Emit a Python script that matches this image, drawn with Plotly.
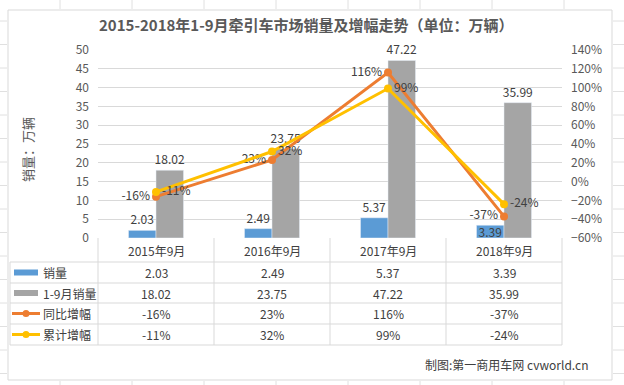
import plotly.graph_objects as go

categories = ["2015年9月", "2016年9月", "2017年9月", "2018年9月"]
sales_sep = [2.03, 2.49, 5.37, 3.39]
sales_ytd = [18.02, 23.75, 47.22, 35.99]
yoy_growth = [-16, 23, 116, -37]
ytd_growth = [-11, 32, 99, -24]
series_names = ["销量", "1-9月销量", "同比增幅", "累计增幅"]

W, H = 624, 385
PL, PR, PT, PB = 98, 562, 50, 238
FONT = "Noto Sans CJK SC"
TXT = "#404040"
BLUE, GRAY, ORANGE, YELLOW = "#5B9BD5", "#A5A5A5", "#ED7D31", "#FFC000"
GRID = "#D9D9D9"


def px(x):
    return (x - PL) / (PR - PL)


def py(y):
    return (PB - y) / (PB - PT)


fig = go.Figure()
fig.add_trace(go.Bar(x=categories, y=sales_sep, name=series_names[0], marker_color=BLUE,
                     text=[f"{v:.2f}" for v in sales_sep],
                     textposition=["outside", "outside", "outside", "inside"],
                     insidetextanchor="middle", constraintext="none", cliponaxis=False,
                     textfont=dict(size=12, color=TXT, family=FONT)))
fig.add_trace(go.Bar(x=categories, y=sales_ytd, name=series_names[1], marker_color=GRAY,
                     text=[f"{v:.2f}" for v in sales_ytd], textposition="outside",
                     constraintext="none", cliponaxis=False,
                     textfont=dict(size=12, color=TXT, family=FONT)))
fig.add_trace(go.Scatter(x=categories, y=yoy_growth, name=series_names[2], yaxis="y2",
                         mode="lines+markers+text", line=dict(color=ORANGE, width=3),
                         marker=dict(size=8, color=ORANGE),
                         text=[f"{v}%" for v in yoy_growth], textposition="middle left",
                         cliponaxis=False, textfont=dict(size=12, color=TXT, family=FONT)))
fig.add_trace(go.Scatter(x=categories, y=ytd_growth, name=series_names[3], yaxis="y2",
                         mode="lines+markers+text", line=dict(color=YELLOW, width=3),
                         marker=dict(size=8, color=YELLOW),
                         text=[f"{v}%" for v in ytd_growth], textposition="middle right",
                         cliponaxis=False, textfont=dict(size=12, color=TXT, family=FONT)))

shapes = []
# sheet gridlines outside chart
for gx in range(60, 624, 72):
    shapes.append(dict(type="line", xref="paper", yref="paper", x0=px(gx), x1=px(gx),
                       y0=py(0), y1=py(9), line=dict(color="#E0E0E0", width=1), layer="below"))
    shapes.append(dict(type="line", xref="paper", yref="paper", x0=px(gx), x1=px(gx),
                       y0=py(381), y1=py(385), line=dict(color="#E0E0E0", width=1), layer="below"))
gy = 21.0
while gy < 385:
    for a, b in ((0, 7), (613, 624)):
        shapes.append(dict(type="line", xref="paper", yref="paper", x0=px(a), x1=px(b),
                           y0=py(gy), y1=py(gy), line=dict(color="#E0E0E0", width=1), layer="below"))
    gy += 23.5
# chart border
shapes.append(dict(type="rect", xref="paper", yref="paper", x0=px(8), x1=px(612),
                   y0=py(380), y1=py(10), line=dict(color=GRID, width=1), layer="below"))
# table lines
for vx in [98, 214, 330, 446, 562]:
    shapes.append(dict(type="line", xref="paper", yref="paper", x0=px(vx), x1=px(vx),
                       y0=py(238), y1=py(345), line=dict(color=GRID, width=1)))
shapes.append(dict(type="line", xref="paper", yref="paper", x0=px(10), x1=px(10),
                   y0=py(262), y1=py(345), line=dict(color=GRID, width=1)))
for hy in [262, 283, 303, 324, 345]:
    shapes.append(dict(type="line", xref="paper", yref="paper", x0=px(10), x1=px(562),
                       y0=py(hy), y1=py(hy), line=dict(color=GRID, width=1)))
# legend keys
row_y = [272.5, 293, 313.5, 334.5]
shapes.append(dict(type="rect", xref="paper", yref="paper", x0=px(14), x1=px(38),
                   y0=py(row_y[0] + 3), y1=py(row_y[0] - 3), line=dict(width=0), fillcolor=BLUE))
shapes.append(dict(type="rect", xref="paper", yref="paper", x0=px(14), x1=px(38),
                   y0=py(row_y[1] + 3), y1=py(row_y[1] - 3), line=dict(width=0), fillcolor=GRAY))
for r, c in ((row_y[2], ORANGE), (row_y[3], YELLOW)):
    shapes.append(dict(type="line", xref="paper", yref="paper", x0=px(12), x1=px(40),
                       y0=py(r), y1=py(r), line=dict(color=c, width=3)))
    shapes.append(dict(type="circle", xref="paper", yref="paper", x0=px(22.5), x1=px(29.5),
                       y0=py(r + 3.5), y1=py(r - 3.5), line=dict(width=0), fillcolor=c))

ann = []
centers = [156, 272, 388, 504]
for i, cat in enumerate(categories):
    ann.append(dict(text=cat, x=px(centers[i]), y=py(250)))
    ann.append(dict(text=f"{sales_sep[i]:.2f}", x=px(centers[i]), y=py(row_y[0])))
    ann.append(dict(text=f"{sales_ytd[i]:.2f}", x=px(centers[i]), y=py(row_y[1])))
    ann.append(dict(text=f"{yoy_growth[i]}%", x=px(centers[i]), y=py(row_y[2])))
    ann.append(dict(text=f"{ytd_growth[i]}%", x=px(centers[i]), y=py(row_y[3])))
for i, nm in enumerate(series_names):
    ann.append(dict(text=nm, x=px(41), y=py(row_y[i]), xanchor="left"))
for a in ann:
    a.update(xref="paper", yref="paper", showarrow=False, yanchor="middle",
             font=dict(size=12, color=TXT, family=FONT))
    a.setdefault("xanchor", "center")
ann.append(dict(text="<b>2015-2018年1-9月牵引车市场销量及增幅走势（单位：万辆）</b>",
                xref="paper", yref="paper", x=px(306), y=py(25), showarrow=False,
                xanchor="center", yanchor="middle", font=dict(size=15, color="#595959", family=FONT)))
ann.append(dict(text="销量：万辆", xref="paper", yref="paper", x=px(27), y=py(150),
                textangle=-90, showarrow=False, xanchor="center", yanchor="middle",
                font=dict(size=13, color="#595959", family=FONT)))
ann.append(dict(text="制图:第一商用车网 cvworld.cn", xref="paper", yref="paper", x=px(590),
                y=py(364), showarrow=False, xanchor="right", yanchor="middle",
                font=dict(size=12, color=TXT, family=FONT)))

fig.update_layout(
    width=W, height=H,
    margin=dict(l=PL, r=W - PR, t=PT, b=H - PB, pad=0),
    paper_bgcolor="white", plot_bgcolor="white",
    barmode="group", bargap=0.526, bargroupgap=0,
    showlegend=False,
    font=dict(family=FONT, size=12, color=TXT),
    xaxis=dict(showticklabels=False, showgrid=False, zeroline=False, showline=False, ticks=""),
    yaxis=dict(range=[0, 50], dtick=5, showgrid=True, gridcolor=GRID, gridwidth=1,
               zeroline=False, showline=False, ticks="", ticklabelstandoff=8,
               tickfont=dict(size=12, color="#595959", family=FONT)),
    yaxis2=dict(range=[-60, 140], dtick=20, overlaying="y", side="right", showgrid=False,
                zeroline=False, showline=False, ticksuffix="%", ticks="", ticklabelstandoff=8,
                tickfont=dict(size=12, color="#595959", family=FONT)),
    shapes=shapes, annotations=ann,
)

fig.write_html("out.html", config={"displayModeBar": False},
               post_script="document.body.style.margin='0';document.body.style.overflow='hidden';")
